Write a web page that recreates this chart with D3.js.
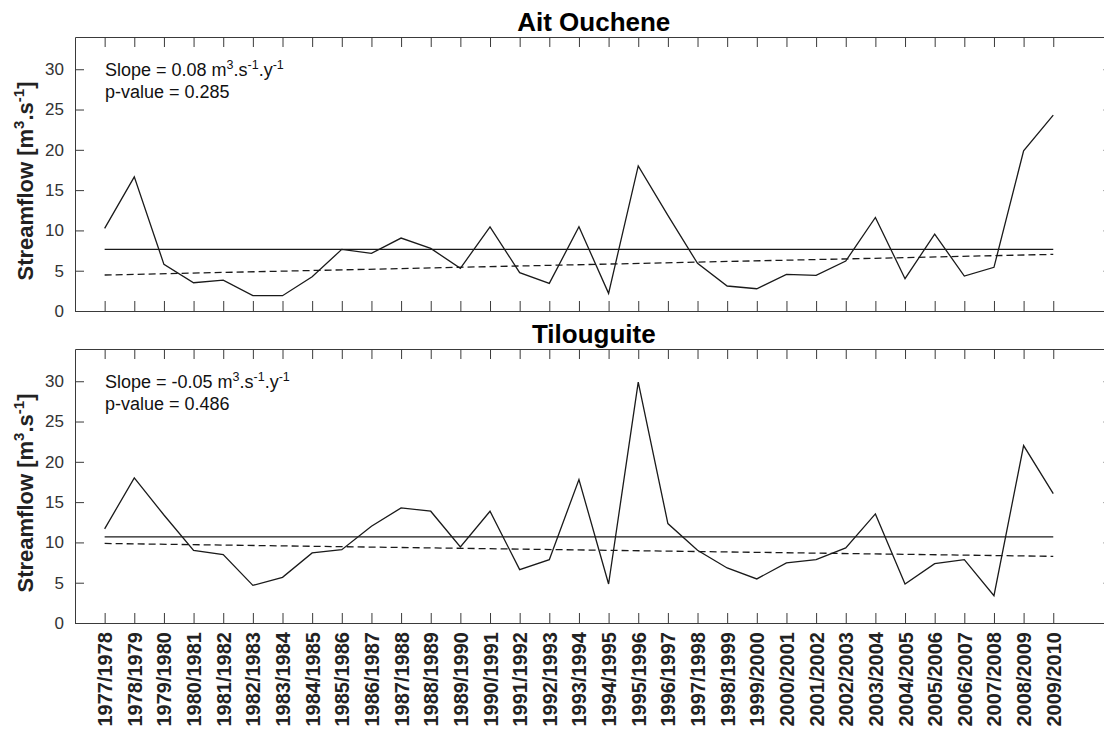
<!DOCTYPE html>
<html>
<head>
<meta charset="utf-8">
<script src="https://cdn.jsdelivr.net/npm/d3@7"></script>
<style>
  body { margin: 0; background: #fff; }
  svg { display: block; }
</style>
</head>
<body>
<svg id="chart" width="1104" height="735"></svg>
<script>
// Hydrological years (x axis tick labels)
const seasons = [
  "1977/1978", "1978/1979", "1979/1980", "1980/1981", "1981/1982", "1982/1983",
  "1983/1984", "1984/1985", "1985/1986", "1986/1987", "1987/1988", "1988/1989",
  "1989/1990", "1990/1991", "1991/1992", "1992/1993", "1993/1994", "1994/1995",
  "1995/1996", "1996/1997", "1997/1998", "1998/1999", "1999/2000", "2000/2001",
  "2001/2002", "2002/2003", "2003/2004", "2004/2005", "2005/2006", "2006/2007",
  "2007/2008", "2008/2009", "2009/2010"
];

// Annual mean streamflow (m3/s) at each gauging station
const aitOuchene = [
  10.25, 16.65, 5.79, 3.51, 3.84, 1.90, 1.90, 4.25, 7.65, 7.15,
  9.05, 7.77, 5.29, 10.45, 4.75, 3.43, 10.45, 2.19, 18.01, 11.86,
  5.91, 3.10, 2.76, 4.55, 4.42, 6.20, 11.61, 4.01, 9.54, 4.34,
  5.42, 19.87, 24.30
];
const tilouguite = [
  11.68, 18.01, 13.40, 9.02, 8.48, 4.67, 5.67, 8.69, 9.10, 12.00,
  14.28, 13.87, 9.44, 13.87, 6.62, 7.86, 17.80, 4.84, 29.89, 12.34,
  9.02, 6.83, 5.47, 7.45, 7.86, 9.32, 13.54, 4.84, 7.37, 7.86,
  3.39, 22.02, 16.06
];

// Station names, trend slopes (m3/s per year), p-values and trend level at the mid season
const stationNames = ["Ait Ouchene", "Tilouguite"];
const trendSlopes = [0.08, -0.05];
const pValues = ["0.285", "0.486"];
const trendMidLevels = [5.745, 9.07];

const yTickValues = [0, 5, 10, 15, 20, 25, 30];
const yMax = 34;

const series = [aitOuchene, tilouguite];

const svg = d3.select("#chart");
const FONT = "'Liberation Sans', Arial, Helvetica, sans-serif";
const AXIS_COLOR = "#3a3a3a";
const INK = "#1a1a1a";

const panels = [
  { top: 37, bottom: 311 },
  { top: 349, bottom: 623 }
];

const left = 75;
const step = 29.644;
const x = d3.scaleLinear().domain([0, seasons.length + 2]).range([left, left + step * (seasons.length + 2)]);
const xIndex = seasons.map((_, i) => i + 1);
const midIndex = (1 + seasons.length) / 2;

panels.forEach((p, k) => {
  const values = series[k];
  const y = d3.scaleLinear().domain([0, yMax]).range([p.bottom, p.top]);
  const g = svg.append("g");

  // Axes box with inward ticks on all four sides
  const bottomAxis = d3.axisBottom(x).tickValues(xIndex).tickSize(-10).tickSizeOuter(0)
    .tickFormat(k === panels.length - 1 ? (d => seasons[d - 1]) : "");
  const topAxis = d3.axisTop(x).tickValues(xIndex).tickSize(-10).tickSizeOuter(0).tickFormat("");
  const leftAxis = d3.axisLeft(y).tickValues(yTickValues).tickSize(-9).tickSizeOuter(0).tickPadding(11);
  const rightAxis = d3.axisRight(y).tickValues(yTickValues).tickSize(-9).tickSizeOuter(0).tickFormat("");

  const gb = g.append("g").attr("transform", `translate(0,${p.bottom})`).call(bottomAxis);
  const gt = g.append("g").attr("transform", `translate(0,${p.top})`).call(topAxis);
  const gl = g.append("g").attr("transform", `translate(${left},0)`).call(leftAxis);
  const gr = g.append("g").attr("transform", `translate(${x.range()[1]},0)`).call(rightAxis);

  [gb, gt, gl, gr].forEach(a => {
    a.selectAll(".domain").attr("stroke", AXIS_COLOR).attr("stroke-width", 1);
    a.selectAll(".tick line").attr("stroke", AXIS_COLOR).attr("stroke-width", 1);
  });

  gl.selectAll(".tick text")
    .attr("font-family", FONT).attr("font-size", 17).attr("fill", "#333");

  gb.selectAll(".tick text")
    .attr("font-family", FONT).attr("font-size", 20).attr("font-weight", "bold")
    .attr("fill", "#222")
    .attr("transform", "rotate(-90)")
    .attr("text-anchor", "end")
    .attr("x", -9).attr("y", 0).attr("dy", "0.35em");

  // Station title
  svg.append("text")
    .attr("x", (x.range()[0] + x.range()[1]) / 2)
    .attr("y", p.top - 6)
    .attr("text-anchor", "middle")
    .attr("font-family", FONT).attr("font-size", 26).attr("font-weight", "bold")
    .attr("fill", "#000")
    .text(stationNames[k]);

  // Y axis label
  const yl = svg.append("text")
    .attr("transform", `translate(33,${(p.top + p.bottom) / 2 + 7}) rotate(-90)`)
    .attr("text-anchor", "middle")
    .attr("font-family", FONT).attr("font-size", 22).attr("font-weight", "bold")
    .attr("fill", "#222");
  yl.append("tspan").text("Streamflow [m");
  yl.append("tspan").attr("dy", -9).attr("font-size", 15).text("3");
  yl.append("tspan").attr("dy", 9).text(".s");
  yl.append("tspan").attr("dy", -9).attr("font-size", 15).text("-1");
  yl.append("tspan").attr("dy", 9).text("]");

  // Mean level
  const meanValue = d3.mean(values);
  g.append("line")
    .attr("x1", x(1)).attr("x2", x(seasons.length))
    .attr("y1", y(meanValue)).attr("y2", y(meanValue))
    .attr("stroke", INK).attr("stroke-width", 1.3);

  // Linear trend
  const trend = i => trendMidLevels[k] + trendSlopes[k] * (i - midIndex);
  g.append("line")
    .attr("x1", x(1)).attr("x2", x(seasons.length))
    .attr("y1", y(trend(1))).attr("y2", y(trend(seasons.length)))
    .attr("stroke", INK).attr("stroke-width", 1.3)
    .attr("stroke-dasharray", "7,4");

  // Streamflow series
  const line = d3.line().x((d, i) => x(i + 1)).y(d => y(d));
  g.append("path")
    .datum(values)
    .attr("d", line)
    .attr("fill", "none")
    .attr("stroke", INK).attr("stroke-width", 1.3)
    .attr("stroke-linejoin", "miter");

  // Trend annotation
  const ann = svg.append("text")
    .attr("x", 105).attr("y", p.top + 39)
    .attr("font-family", FONT).attr("font-size", 18).attr("fill", "#111");
  ann.append("tspan").text(`Slope = ${trendSlopes[k].toFixed(2)} m`);
  ann.append("tspan").attr("dy", -7).attr("font-size", 12.5).text("3");
  ann.append("tspan").attr("dy", 7).text(".s");
  ann.append("tspan").attr("dy", -7).attr("font-size", 12.5).text("-1");
  ann.append("tspan").attr("dy", 7).text(".y");
  ann.append("tspan").attr("dy", -7).attr("font-size", 12.5).text("-1");

  svg.append("text")
    .attr("x", 105).attr("y", p.top + 61)
    .attr("font-family", FONT).attr("font-size", 18).attr("fill", "#111")
    .text(`p-value = ${pValues[k]}`);
});
</script>
</body>
</html>
